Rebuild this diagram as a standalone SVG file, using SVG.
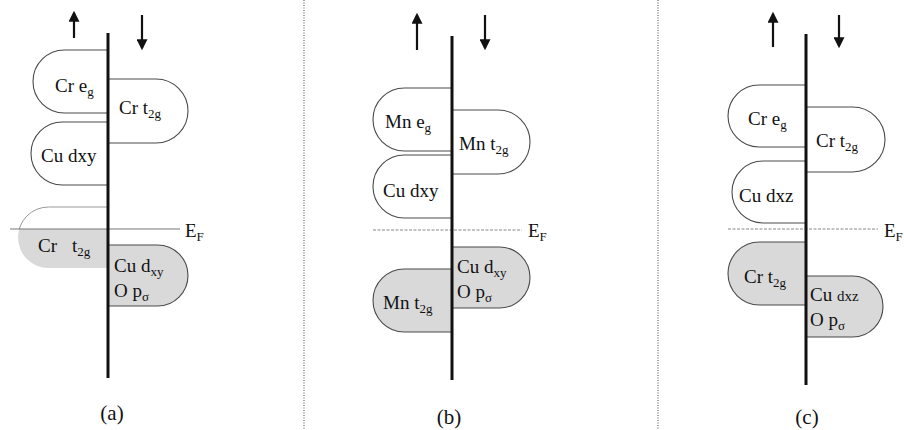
<svg xmlns="http://www.w3.org/2000/svg" width="904" height="430" viewBox="0 0 904 430">
<defs>
<style>
.lobe{fill:#fff;stroke:#4a4a4a;stroke-width:1.1}
.fill{fill:#d9d9d9;stroke:#4a4a4a;stroke-width:1.1}
.axis{stroke:#111;stroke-width:3;fill:none}
.ef{stroke:#777;stroke-width:1.2}
.efd{stroke:#888;stroke-width:1.2;stroke-dasharray:3 1.5}
.div{stroke:#666;stroke-width:1.2;stroke-dasharray:1 1.5}
.arr{stroke:#111;stroke-width:2.2;marker-end:url(#ah)}
text{font-family:"Liberation Serif","Times New Roman",serif;font-size:19px;fill:#111}
.sub{font-size:13px}
.cap{font-size:21px}
</style>
<marker id="ah" markerWidth="11" markerHeight="11" refX="8" refY="5" orient="auto" markerUnits="userSpaceOnUse" viewBox="0 0 10 10">
<path d="M0,0 L10,5 L0,10 Z" fill="#111"/>
</marker>
<clipPath id="above"><rect x="0" y="0" width="120" height="229"/></clipPath>
<clipPath id="below"><rect x="0" y="229" width="120" height="60"/></clipPath>
</defs>

<g id="dividers">
<line class="div" x1="304" y1="0" x2="304" y2="430"/>
<line class="div" x1="658" y1="0" x2="658" y2="430"/>
</g>

<!-- Panel (a) -->
<g id="a-cr-eg"><path class="lobe" d="M108,50 H64.5 A31.5 31.5 0 0 0 64.5,113 H108"/><text x="55" y="92">Cr e<tspan class="sub" dy="4">g</tspan></text></g>
<g id="a-cr-t2g"><path class="lobe" d="M108,79 H156 A32 32 0 0 1 156,143 H108"/><text x="119" y="114">Cr t<tspan class="sub" dy="4">2g</tspan></text></g>
<g id="a-cu-dxy"><path class="lobe" d="M108,122 H62.5 A31.5 31.5 0 0 0 62.5,185 H108"/><text x="41" y="162">Cu dxy</text></g>
<g id="a-cr-t2g-occ">
<path d="M108,207 H48.5 A30.5 30.5 0 0 0 48.5,268 H108 Z" fill="#fff" stroke="#999" stroke-width="1" clip-path="url(#above)"/>
<path d="M108,207 H48.5 A30.5 30.5 0 0 0 48.5,268 H108 Z" fill="#d9d9d9" stroke="none" clip-path="url(#below)"/>
<text x="38" y="252">Cr<tspan x="72">t</tspan><tspan class="sub" dy="4">2g</tspan></text>
</g>
<g id="a-cu-op"><path class="fill" d="M108,245 H157.5 A30.5 30.5 0 0 1 157.5,306 H108 Z"/><text x="114" y="272">Cu d<tspan class="sub" dy="4">xy</tspan></text><text x="114" y="297">O p<tspan class="sub" dy="4">σ</tspan></text></g>
<g id="a-ef"><line class="ef" x1="10" y1="229" x2="180" y2="229"/><text x="185" y="237">E<tspan class="sub" dy="4">F</tspan></text></g>
<g id="a-axis"><line class="axis" x1="108" y1="33" x2="108" y2="378"/></g>
<g id="a-spins"><line class="arr" x1="74" y1="38" x2="74" y2="13"/><line class="arr" x1="142" y1="15" x2="142" y2="48"/></g>
<text class="cap" x="112" y="420" text-anchor="middle">(a)</text>

<!-- Panel (b) -->
<g id="b-mn-eg"><path class="lobe" d="M452,88 H404.5 A31.5 31.5 0 0 0 404.5,151 H452"/><text x="385" y="128">Mn e<tspan class="sub" dy="4">g</tspan></text></g>
<g id="b-mn-t2g"><path class="lobe" d="M452,110 H498 A32 32 0 0 1 498,174 H452"/><text x="459" y="150">Mn t<tspan class="sub" dy="4">2g</tspan></text></g>
<g id="b-cu-dxy"><path class="lobe" d="M452,155 H404.5 A31.5 31.5 0 0 0 404.5,218 H452"/><text x="383" y="197">Cu dxy</text></g>
<g id="b-ef"><line class="efd" x1="373" y1="230" x2="522" y2="230"/><text x="528" y="237">E<tspan class="sub" dy="4">F</tspan></text></g>
<g id="b-cu-op"><path class="fill" d="M452,247 H499.5 A30.5 30.5 0 0 1 499.5,308 H452 Z"/><text x="457" y="273">Cu d<tspan class="sub" dy="4">xy</tspan></text><text x="457" y="298">O p<tspan class="sub" dy="4">σ</tspan></text></g>
<g id="b-mn-t2g-occ"><path class="fill" d="M452,269 H404.5 A31.5 31.5 0 0 0 404.5,332 H452 Z"/><text x="383" y="309">Mn t<tspan class="sub" dy="4">2g</tspan></text></g>
<g id="b-axis"><line class="axis" x1="452" y1="36" x2="452" y2="380"/></g>
<g id="b-spins"><line class="arr" x1="417" y1="50" x2="417" y2="15"/><line class="arr" x1="485" y1="15" x2="485" y2="48"/></g>
<text class="cap" x="449" y="424" text-anchor="middle">(b)</text>

<!-- Panel (c) -->
<g id="c-cr-eg"><path class="lobe" d="M806,85 H759 A31 31 0 0 0 759,147 H806"/><text x="748" y="125">Cr e<tspan class="sub" dy="4">g</tspan></text></g>
<g id="c-cr-t2g"><path class="lobe" d="M806,107 H852.5 A32.5 32.5 0 0 1 852.5,172 H806"/><text x="816" y="147">Cr t<tspan class="sub" dy="4">2g</tspan></text></g>
<g id="c-cu-dxz"><path class="lobe" d="M806,161 H763 A31 31 0 0 0 763,223 H806"/><text x="739" y="202">Cu dxz</text></g>
<g id="c-ef"><line class="efd" x1="728" y1="229" x2="878" y2="229"/><text x="884" y="237">E<tspan class="sub" dy="4">F</tspan></text></g>
<g id="c-cr-t2g-occ"><path class="fill" d="M806,242 H759.5 A31.5 31.5 0 0 0 759.5,305 H806 Z"/><text x="744" y="283">Cr t<tspan class="sub" dy="4">2g</tspan></text></g>
<g id="c-cu-op"><path class="fill" d="M806,276 H852.5 A30.5 30.5 0 0 1 852.5,337 H806 Z"/><text x="810" y="301">Cu <tspan style="font-size:15px">dxz</tspan></text><text x="810" y="326">O p<tspan class="sub" dy="4">σ</tspan></text></g>
<g id="c-axis"><line class="axis" x1="806" y1="34" x2="806" y2="385"/></g>
<g id="c-spins"><line class="arr" x1="773" y1="47" x2="773" y2="14"/><line class="arr" x1="839" y1="15" x2="839" y2="46"/></g>
<text class="cap" x="807" y="424" text-anchor="middle">(c)</text>
</svg>
